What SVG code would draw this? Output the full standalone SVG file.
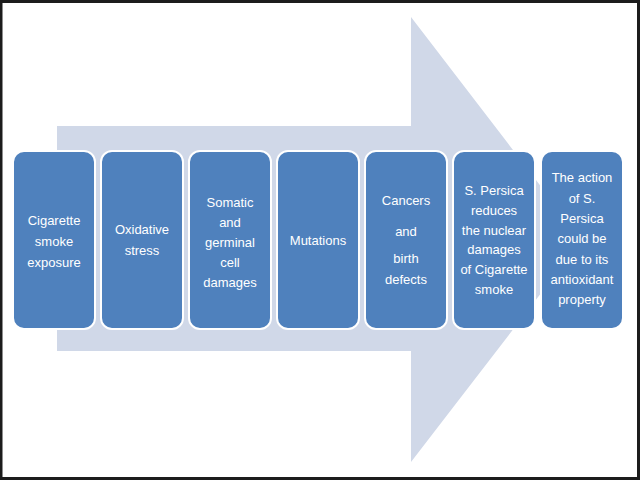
<svg xmlns="http://www.w3.org/2000/svg" width="640" height="480" viewBox="0 0 640 480">
<style>
.box{fill:#4F81BD;stroke:#ffffff;stroke-width:2}
.t{font-family:"Liberation Sans",Arial,sans-serif;font-size:13px;fill:#ffffff;text-anchor:middle}
</style>
<rect x="0" y="0" width="640" height="480" fill="#1c1c1c"/>
<rect x="2.5" y="3" width="634.5" height="474" fill="#ffffff"/>
<g id="arrow">
<polygon points="57,126 411,126 411,17 582,240 411,462 411,351 57,351" fill="#D0D8E8"/>
</g>
<g id="connectors"></g>
<g id="n1"><rect class="box" x="13" y="151" width="82" height="178" rx="11"/>
<text class="t" x="54" y="225">Cigarette</text><text class="t" x="54" y="246">smoke</text><text class="t" x="54" y="267">exposure</text></g>
<g id="n2"><rect class="box" x="101" y="151" width="82" height="178" rx="11"/>
<text class="t" x="142" y="234">Oxidative</text><text class="t" x="142" y="255">stress</text></g>
<g id="n3"><rect class="box" x="189" y="151" width="82" height="178" rx="11"/>
<text class="t" x="230" y="207">Somatic</text><text class="t" x="230" y="227">and</text><text class="t" x="230" y="247">germinal</text><text class="t" x="230" y="267">cell</text><text class="t" x="230" y="287">damages</text></g>
<g id="n4"><rect class="box" x="277" y="151" width="82" height="178" rx="11"/>
<text class="t" x="318" y="245">Mutations</text></g>
<g id="n5"><rect class="box" x="365" y="151" width="82" height="178" rx="11"/>
<text class="t" x="406" y="205">Cancers</text><text class="t" x="406" y="236">and</text><text class="t" x="406" y="263">birth</text><text class="t" x="406" y="284">defects</text></g>
<g id="n6"><rect class="box" x="453" y="151" width="82" height="178" rx="11"/>
<text class="t" x="494" y="195">S. Persica</text><text class="t" x="494" y="215">reduces</text><text class="t" x="494" y="235">the nuclear</text><text class="t" x="494" y="254">damages</text><text class="t" x="494" y="274">of Cigarette</text><text class="t" x="494" y="294">smoke</text></g>
<g id="n7"><rect class="box" x="541" y="151" width="82" height="178" rx="11"/>
<text class="t" x="582" y="182">The action</text><text class="t" x="582" y="203">of S.</text><text class="t" x="582" y="223">Persica</text><text class="t" x="582" y="243">could be</text><text class="t" x="582" y="264">due to its</text><text class="t" x="582" y="284">antioxidant</text><text class="t" x="582" y="304">property</text></g>
</svg>
